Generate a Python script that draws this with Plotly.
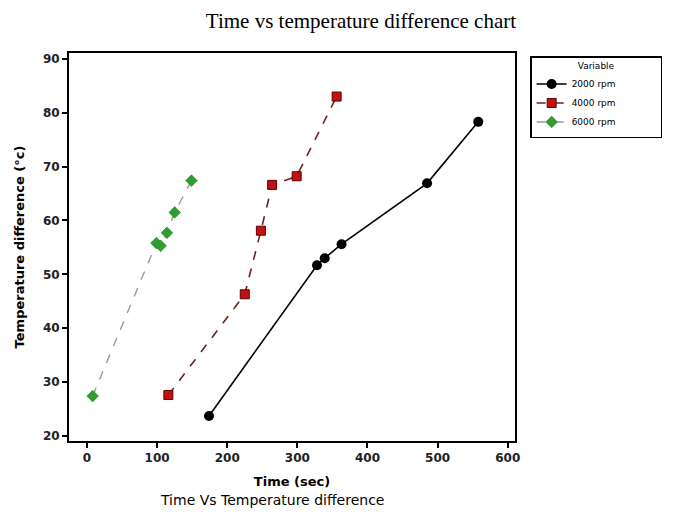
import plotly.graph_objects as go

# Time (sec) vs temperature difference (deg C) per speed
time_2000 = [174, 328, 339, 363, 485, 558]
temp_2000 = [23.7, 51.7, 53.0, 55.6, 66.9, 78.3]

time_4000 = [116, 225, 248, 264, 299, 356]
temp_4000 = [27.6, 46.3, 58.1, 66.6, 68.2, 83.0]

time_6000 = [8, 99, 105, 114, 125, 149]
temp_6000 = [27.4, 55.8, 55.3, 57.7, 61.5, 67.4]

x_ticks = [0, 100, 200, 300, 400, 500, 600]
y_ticks = [20, 30, 40, 50, 60, 70, 80, 90]

sans = "DejaVu Sans"
pad = "\u00a0" * 14  # widen legend box

fig = go.Figure()

fig.add_trace(go.Scatter(
    x=time_2000, y=temp_2000, name="2000 rpm" + pad, mode="lines+markers",
    line=dict(color="black", width=1.6),
    marker=dict(symbol="circle", size=10, color="black"),
))
fig.add_trace(go.Scatter(
    x=time_4000, y=temp_4000, name="4000 rpm" + pad, mode="lines+markers",
    line=dict(color="#6e2020", width=1.6, dash="dash"),
    marker=dict(symbol="square", size=9, color="#c41010",
                line=dict(color="#5a0000", width=1)),
))
fig.add_trace(go.Scatter(
    x=time_6000, y=temp_6000, name="6000 rpm" + pad, mode="lines+markers",
    line=dict(color="#9a9a9a", width=1.4, dash="dash"),
    marker=dict(symbol="diamond", size=9, color="#2f9e2f",
                line=dict(color="#1f7a1f", width=0.5)),
))

axis_common = dict(
    showline=True, linecolor="black", linewidth=2, mirror=True,
    ticks="outside", tickcolor="black", ticklen=5, tickwidth=1.5,
    showgrid=False, zeroline=False,
    tickfont=dict(family=sans, size=12, color="#222", weight="bold"),
)

fig.update_xaxes(
    range=[-25.7, 610.4], tickvals=x_ticks,
    title=dict(text="<b>Time (sec)</b>", font=dict(family=sans, size=13, color="black"),
               standoff=12),
    **axis_common,
)
fig.update_yaxes(
    range=[19.07, 91.08], tickvals=y_ticks,
    title=dict(text="<b>Temperature difference (°c)</b>",
               font=dict(family=sans, size=13, color="black"), standoff=15),
    **axis_common,
)

fig.update_layout(
    width=666, height=519,
    margin=dict(l=61, r=159, t=45, b=86, autoexpand=False),
    paper_bgcolor="white", plot_bgcolor="white",
    title=dict(text="Time vs temperature difference chart", x=0.53, xanchor="center",
               y=0.99, yanchor="top",
               font=dict(family="Liberation Serif", size=21, color="black")),
    legend=dict(
        title=dict(text="Variable", font=dict(family=sans, size=9, color="black"),
                   side="top center"),
        xref="container", yref="container",
        x=0.784, xanchor="left", y=0.907, yanchor="top",
        bordercolor="black", borderwidth=1.5, bgcolor="white",
        font=dict(family=sans, size=9, color="black"),
        itemwidth=30, tracegroupgap=0,
    ),
    annotations=[dict(
        text="Time Vs Temperature difference", xref="paper", yref="paper",
        x=0.456, y=-0.152, xanchor="center", yanchor="middle", showarrow=False,
        font=dict(family=sans, size=14, color="black"),
    )],
)

fig.write_html("out.html")
